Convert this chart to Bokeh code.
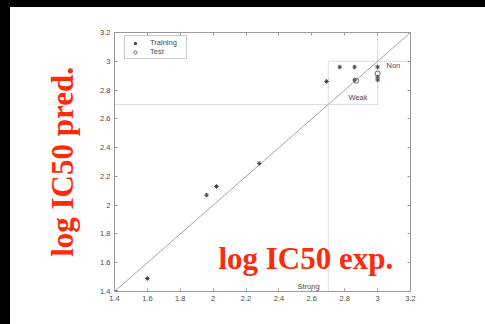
import math
from bokeh.plotting import figure
from bokeh.models import (Range1d, FixedTicker, LinearAxis, Label, Div,
                          Legend, LegendItem)
from bokeh.layouts import column, row
from bokeh.embed import file_html
from bokeh.resources import INLINE

# ---- data ----
train_x = [1.60, 1.96, 2.02, 2.28, 2.69, 2.77, 2.86, 2.86, 3.00, 3.00, 3.00]
train_y = [1.49, 2.07, 2.13, 2.29, 2.86, 2.96, 2.96, 2.87, 2.96, 2.89, 2.87]
test_x = [1.41, 2.87, 3.00]
test_y = [1.39, 2.865, 2.915]
ticks = [1.4, 1.6, 1.8, 2.0, 2.2, 2.4, 2.6, 2.8, 3.0, 3.2]
tick_labels = ["1.4", "1.6", "1.8", "2", "2.2", "2.4", "2.6", "2.8", "3", "3.2"]
diag = [1.4, 3.2]
thr_weak = 2.7
thr_non = 3.0

RED = "#ff2a0a"
GRAY = "#9a9a9a"
TXT = "#4a4a4a"

p = figure(width=475, height=317, output_backend="svg", toolbar_location=None,
           x_range=Range1d(1.4, 3.2), y_range=Range1d(1.4, 3.2),
           min_border_left=104, min_border_right=75, min_border_top=25,
           min_border_bottom=33, background_fill_color="white",
           border_fill_color="white", outline_line_color=GRAY)
p.xgrid.visible = False
p.ygrid.visible = False

overrides = {t: l for t, l in zip(ticks, tick_labels)}
for ax in (p.xaxis[0], p.yaxis[0]):
    ax.ticker = FixedTicker(ticks=ticks)
    ax.major_label_overrides = overrides
    ax.major_tick_in = 3
    ax.major_tick_out = 0
    ax.minor_tick_line_color = None
    ax.axis_line_color = GRAY
    ax.major_tick_line_color = GRAY
    ax.major_label_text_font = "Liberation Sans"
    ax.major_label_text_font_size = "7.5px"
    ax.major_label_text_color = TXT
    ax.major_label_standoff = 4

p.yaxis[0].axis_label = "log IC50 pred."
p.yaxis[0].axis_label_text_font = "Liberation Serif"
p.yaxis[0].axis_label_text_font_size = "31px"
p.yaxis[0].axis_label_text_font_style = "bold"
p.yaxis[0].axis_label_text_color = RED
p.yaxis[0].axis_label_standoff = 17

for side in ("above", "right"):
    ax = LinearAxis(ticker=FixedTicker(ticks=ticks))
    ax.major_label_overrides = {t: "" for t in ticks}
    ax.major_tick_in = 3
    ax.major_tick_out = 0
    ax.minor_tick_line_color = None
    ax.axis_line_color = GRAY
    ax.major_tick_line_color = GRAY
    ax.major_label_standoff = 0
    p.add_layout(ax, side)

# diagonal
p.line(diag, diag, line_color="#a8a8a8", line_width=1)

# threshold dotted lines
dot = dict(line_color="#bdbdbd", line_width=1, line_dash="1 1")
p.segment(x0=[diag[0], thr_weak, thr_weak, thr_non],
          y0=[thr_weak, thr_non, diag[0], thr_weak],
          x1=[thr_non, diag[1], thr_weak, thr_non],
          y1=[thr_weak, thr_non, thr_non, diag[1]], **dot)

r_train = p.scatter(train_x, train_y, marker="asterisk", size=4.5,
                    line_color="#444444", line_width=1)
r_test = p.scatter(test_x, test_y, marker="circle", size=5, fill_color=None,
                   line_color="#666666", line_width=1)

legend = Legend(items=[LegendItem(label="Training", renderers=[r_train]),
                       LegendItem(label="Test", renderers=[r_test])],
                location=(10, 232))
legend.label_text_font = "Liberation Sans"
legend.label_text_font_size = "7.5px"
legend.label_text_color = TXT
legend.label_height = 8
legend.label_width = 34
legend.glyph_height = 8
legend.glyph_width = 16
legend.label_standoff = 7
legend.padding = 2
legend.spacing = 0
legend.margin = 0
legend.border_line_color = GRAY
legend.border_line_width = 1
legend.background_fill_alpha = 1
p.add_layout(legend)

small = dict(text_font="Liberation Sans", text_font_size="7.5px",
             text_color=TXT, text_baseline="middle")
p.add_layout(Label(x=3.054, y=2.97, text="Non", **small))
p.add_layout(Label(x=2.823, y=2.749, text="Weak", **small))
p.add_layout(Label(x=2.513, y=1.435, text="Strong", **small))

big = dict(text_font="Liberation Serif", text_font_size="31px",
           text_font_style="bold", text_color=RED)
p.add_layout(Label(x=2.032, y=1.63, text="log IC50 exp.",
                   text_baseline="alphabetic", **big))

top = Div(width=485, height=7, margin=(0, 0, 0, 0),
          styles={"background-color": "black"})
left = Div(width=10, height=317, margin=(0, 0, 0, 0),
           styles={"background-color": "black"})
layout = column(top, row(left, p, spacing=0), spacing=0)

open("out.html", "w").write(file_html(layout, INLINE))
